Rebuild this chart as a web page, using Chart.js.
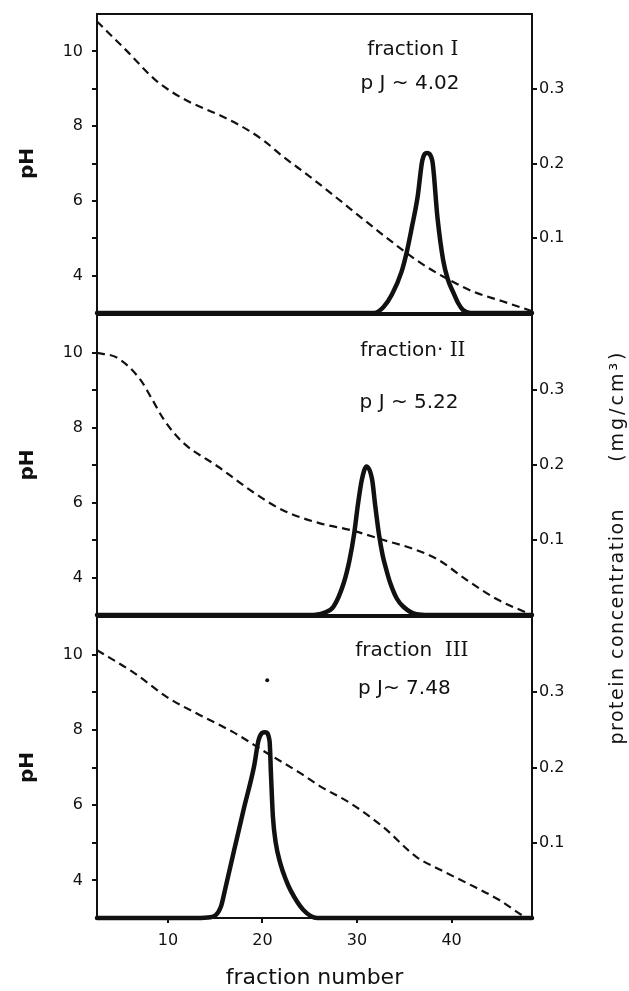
<!DOCTYPE html>
<html>
<head>
<meta charset="utf-8">
<script src="https://cdn.jsdelivr.net/npm/chart.js"></script>
<style>
  body { margin: 0; background: #fff; }
  #wrap { position: relative; width: 629px; height: 991px; overflow: hidden; }
  canvas { position: absolute; left: 0; }
  #c1 { top: 4px; }
  #c2 { top: 305px; }
  #c3 { top: 607px; }
  #rtitle {
    position: absolute; left: 396px; top: 535px; width: 440px; height: 24px;
    line-height: 24px; text-align: center; white-space: nowrap;
    transform: rotate(-90deg); transform-origin: 50% 50%;
    font-family: "DejaVu Sans", sans-serif; font-size: 19px; color: #111;
    letter-spacing: 1.5px;
  }
  #rtitle .unit { margin-left: 46px; letter-spacing: 3px; }
</style>
</head>
<body>
<div id="wrap">
  <canvas id="c1" width="629" height="319"></canvas>
  <canvas id="c2" width="629" height="320"></canvas>
  <canvas id="c3" width="629" height="384"></canvas>
  <div id="rtitle">protein concentration<span class="unit">(mg/cm³)</span></div>
</div>
<script>
// fraction I
const ph1X = [2.5, 5.7, 8.6, 10.5, 12.5, 15.4, 18.3, 20.2, 22.1, 25.0, 27.9, 30.8, 33.7, 36.6, 39.5, 42.4, 45.3, 48.5];
const ph1Y = [10.8, 10.0, 9.25, 8.9, 8.62, 8.3, 7.92, 7.6, 7.2, 6.65, 6.07, 5.48, 4.9, 4.36, 3.92, 3.56, 3.32, 3.05];
const prot1X = [2.5, 31.8, 32.8, 33.7, 34.7, 35.3, 35.8, 36.4, 36.9, 37.4, 37.95, 38.5, 39.1, 39.6, 40.2, 40.7, 41.2, 42.0, 48.5];
const prot1Y = [0, 0, 0.008, 0.025, 0.055, 0.084, 0.115, 0.155, 0.204, 0.214, 0.204, 0.128, 0.071, 0.045, 0.027, 0.013, 0.004, 0, 0];

// fraction II
const ph2X = [2.5, 4.7, 7.1, 8.2, 9.6, 11.5, 15.4, 18.7, 22.1, 26.0, 29.4, 32.8, 36.1, 38.6, 41.5, 44.8, 48.5];
const ph2Y = [9.99, 9.85, 9.27, 8.81, 8.2, 7.62, 6.94, 6.33, 5.8, 5.45, 5.26, 5.0, 4.75, 4.47, 3.95, 3.42, 3.0];
const prot2X = [2.5, 25.0, 26.5, 27.5, 28.6, 29.2, 29.7, 30.1, 30.5, 31.0, 31.6, 31.9, 32.3, 32.7, 33.1, 33.5, 34.2, 34.9, 36.3, 37.6, 48.5];
const prot2Y = [0, 0, 0.003, 0.011, 0.043, 0.073, 0.109, 0.148, 0.18, 0.198, 0.18, 0.148, 0.109, 0.08, 0.06, 0.043, 0.022, 0.011, 0.001, 0, 0];

// fraction III
const ph3X = [2.5, 6.45, 9.9, 13.4, 16.9, 20.5, 24.0, 26.1, 29.3, 32.8, 36.3, 38.8, 41.6, 45.1, 47.6, 48.0];
const ph3Y = [10.12, 9.51, 8.87, 8.39, 7.94, 7.38, 6.85, 6.5, 6.05, 5.41, 4.62, 4.28, 3.93, 3.47, 3.05, 3.0];
const prot3X = [2.5, 13.0, 14.5, 15.6, 16.1, 17.0, 18.0, 19.1, 19.6, 20.3, 20.75, 20.9, 21.1, 21.4, 21.9, 22.5, 23.0, 24.3, 25.8, 27.0, 48.5];
const prot3Y = [0, 0, 0.001, 0.015, 0.041, 0.09, 0.144, 0.201, 0.237, 0.247, 0.235, 0.19, 0.135, 0.1, 0.072, 0.05, 0.036, 0.011, 0, 0, 0];
const dotX = [20.5];
const dotY = [9.32];

const xTicks = [10, 20, 30, 40];
const phTicks = [4, 5, 6, 7, 8, 9, 10];
const protTicks = [0.1, 0.2, 0.3];

const notes1 = ['fraction ', 'I', 'p J ~ 4.02'];
const notes2 = ['fraction· ', 'II', 'p J ~ 5.22'];
const notes3 = ['fraction  ', 'III', 'p J~ 7.48'];

Chart.defaults.font.family = "'DejaVu Sans', sans-serif";
Chart.defaults.color = '#111';

const INK = '#111';

// frame round the plot area
const frame = {
  id: 'frame',
  beforeDatasetsDraw(chart) {
    const { ctx, chartArea: a } = chart;
    ctx.save();
    ctx.strokeStyle = INK;
    ctx.lineWidth = 2;
    ctx.strokeRect(a.left, a.top, a.right - a.left, a.bottom - a.top);
    ctx.restore();
  }
};

// "fraction X" and "p J ~ ..." labels inside each panel
const panelText = {
  id: 'panelText',
  afterDatasetsDraw(chart, args, opts) {
    const { ctx, scales } = chart;
    const t = opts.text;
    ctx.save();
    ctx.fillStyle = INK;
    ctx.textBaseline = 'middle';
    ctx.font = '20px "DejaVu Sans"';
    const w1 = ctx.measureText(t[0]).width;
    ctx.font = '20px "DejaVu Serif"';
    const w2 = ctx.measureText(t[1]).width;
    let x = scales.x.getPixelForValue(opts.at[0][0]) - (w1 + w2) / 2;
    let y = scales.ph.getPixelForValue(opts.at[0][1]);
    ctx.textAlign = 'left';
    ctx.font = '20px "DejaVu Sans"';
    ctx.fillText(t[0], x, y);
    ctx.font = '20px "DejaVu Serif"';
    ctx.fillText(t[1], x + w1, y);
    ctx.font = '20px "DejaVu Sans"';
    ctx.textAlign = 'center';
    ctx.fillText(t[2], scales.x.getPixelForValue(opts.at[1][0]), scales.ph.getPixelForValue(opts.at[1][1]));
    ctx.restore();
  }
};

function pts(xs, ys) {
  return xs.map((x, i) => ({ x: x, y: ys[i] }));
}

function keep(list) {
  return scale => {
    scale.ticks = list.map(v => ({ value: v }));
  };
}

function panel(id, phX, phY, protX, protY, text, at, last, extra) {
  const ctx = document.getElementById(id).getContext('2d');
  const datasets = [
    {
      data: pts(phX, phY), yAxisID: 'ph',
      borderColor: INK, borderWidth: 2.2, borderDash: [8, 5],
      pointRadius: 0, cubicInterpolationMode: 'monotone', fill: false
    },
    {
      data: pts(protX, protY), yAxisID: 'prot',
      borderColor: INK, borderWidth: 4.5, borderCapStyle: 'round', borderJoinStyle: 'round',
      pointRadius: 0, cubicInterpolationMode: 'monotone', fill: false, clip: 8
    }
  ];
  if (extra) datasets.push(extra);

  const tickGrid = { drawOnChartArea: false, drawTicks: true, tickLength: 5, color: INK, lineWidth: 2 };

  return new Chart(ctx, {
    type: 'line',
    data: { datasets: datasets },
    options: {
      responsive: false,
      animation: false,
      layout: { padding: { top: 10, bottom: last ? 0 : 10, left: 0, right: 0 } },
      plugins: {
        legend: { display: false },
        tooltip: { enabled: false },
        panelText: { text: text, at: at }
      },
      scales: {
        x: {
          type: 'linear', min: 2.5, max: 48.5, display: last,
          grid: tickGrid, border: { display: false },
          afterBuildTicks: keep(xTicks),
          afterFit: s => {
            if (last) s.height = 73;
            s.paddingLeft = 0;
            s.paddingRight = 0;
          },
          ticks: { font: { size: 16 }, padding: 8, maxRotation: 0 },
          title: {
            display: true, text: 'fraction number',
            font: { size: 22 }, padding: { top: 0, bottom: 0 }
          }
        },
        ph: {
          type: 'linear', position: 'left', min: 3, max: 11,
          grid: tickGrid, border: { display: false },
          afterBuildTicks: keep(phTicks),
          afterFit: s => {
            s.width = 97;
            s.paddingTop = 0;
            s.paddingBottom = 0;
          },
          ticks: {
            font: { size: 16 }, padding: 9,
            callback: v => (v % 2 === 0 ? String(v) : '')
          },
          title: {
            display: true, text: 'pH',
            font: { size: 20, weight: 'bold' }, padding: { top: 16, bottom: 0 }
          }
        },
        prot: {
          type: 'linear', position: 'right', min: 0, max: 0.4,
          grid: tickGrid, border: { display: false },
          afterBuildTicks: keep(protTicks),
          afterFit: s => {
            s.width = 97;
            s.paddingTop = 0;
            s.paddingBottom = 0;
          },
          ticks: {
            font: { size: 16 }, padding: 2,
            callback: v => v.toFixed(1)
          }
        }
      }
    },
    plugins: [frame, panelText]
  });
}

panel('c1', ph1X, ph1Y, prot1X, prot1Y, notes1, [[35.9, 10.04], [35.6, 9.13]], false);
panel('c2', ph2X, ph2Y, prot2X, prot2Y, notes2, [[35.9, 10.04], [35.5, 8.65]], false);
panel('c3', ph3X, ph3Y, prot3X, prot3Y, notes3, [[35.8, 10.1], [35.0, 9.09]], true, {
  data: pts(dotX, dotY), yAxisID: 'ph', showLine: false,
  pointRadius: 2, pointBackgroundColor: INK, pointBorderWidth: 0
});
</script>
</body>
</html>
